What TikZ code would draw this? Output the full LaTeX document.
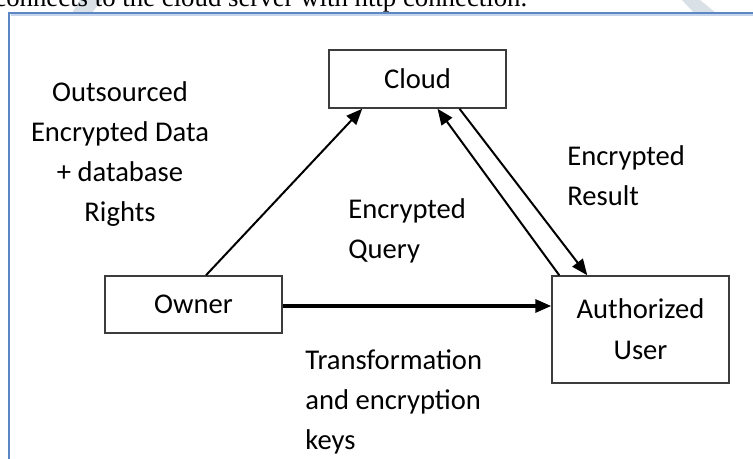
\documentclass[tikz,border=0pt]{standalone}
\usepackage{fontspec}
\setmainfont{Carlito}
\newfontfamily\docserif{Liberation Serif}
\usetikzlibrary{arrows.meta,positioning,calc}
\definecolor{ink}{HTML}{1A1A1A}
\definecolor{frameblue}{HTML}{5B87C5}
\definecolor{wmgrey}{HTML}{D9E1E7}
\tikzset{
  entity/.style={draw=ink!85,fill=white,line width=0.75pt,
                 minimum width=88.5pt,align=center,inner sep=0pt,
                 font=\fontsize{14.3}{20.5}\selectfont},
  lbl/.style={inner sep=0pt,font=\fontsize{14.3}{20}\selectfont},
  arr/.style={-{Triangle[length=8pt,width=6.5pt]},line width=1pt,draw=black},
  thickarr/.style={-{Triangle[length=8pt,width=6.5pt]},line width=1.6pt,draw=black}
}
\begin{document}
\begin{tikzpicture}[x=0.5pt,y=-0.5pt]
    \clip (0,0) rectangle (753,459);
    \fill[white] (0,0) rectangle (753,459);
    % page around the figure
    \fill[wmgrey] (80,0) -- (102,0) -- (92,13) -- (72,13) -- cycle;
    \fill[wmgrey] (682,0) -- (700,0) -- (716,13) -- (694,13) -- cycle;
    \node[anchor=base west,inner sep=0pt,font=\docserif\fontsize{13.4}{15}\selectfont]
      (page) at (-6,7) {connects to the cloud server with http connection.};
    \draw[draw=frameblue!35,line width=1pt] (11,15) -- (760,15);
    \draw[draw=frameblue,line width=0.8pt] (9,470) -- (9,13) -- (760,13);
    % parties
    \node[entity,minimum height=29pt] (cloud) at (417.5,79) {Cloud};
    \node[entity,minimum height=28.5pt] (owner) at (193.5,304.5) {Owner};
    \node[entity,minimum height=53.5pt] (user) at (640.5,329.5)
      {Authorized\\User};
    % labels (anchored on the last line)
    \node[lbl,align=center,anchor=base] (outs) at (120,222)
      {Outsourced\\Encrypted Data\\+ database\\Rights};
    \node[lbl,align=left,anchor=base west] (query) at (348,258)
      {Encrypted\\Query};
    \node[lbl,align=left,anchor=base west] (result) at (567,206)
      {Encrypted\\Result};
    \node[lbl,align=left,anchor=base west] (keys) at (305,449)
      {Transformation\\and encryption\\keys};
    % flows
    \draw[arr] ([xshift=6.25pt]owner.north) -- ([xshift=17pt]cloud.south west);
    \draw[arr] ([xshift=21pt]cloud.south) -- ([xshift=18pt]user.north west);
    \draw[arr] ([xshift=4pt]user.north west) -- ([xshift=10pt]cloud.south);
    \draw[thickarr] ([yshift=-0.75pt]owner.east) -- ([yshift=-0.75pt]owner.east -| user.west);
  \end{tikzpicture}
\end{document}
